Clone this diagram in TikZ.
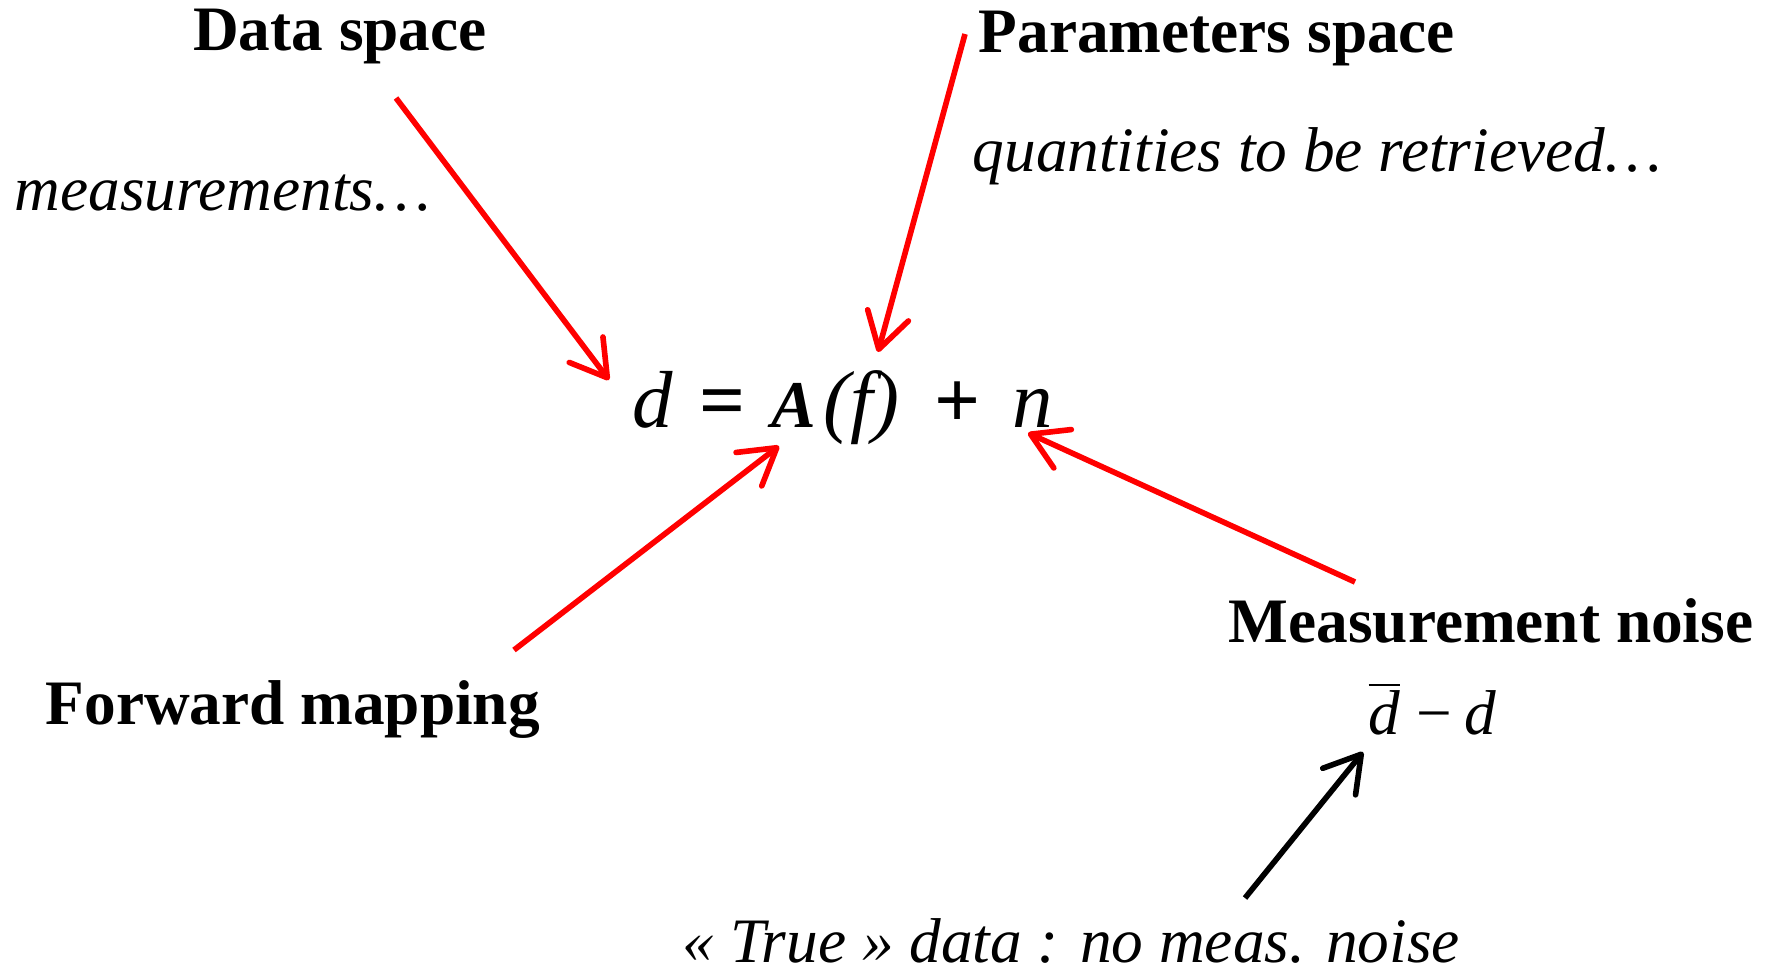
\documentclass[tikz,border=0pt]{standalone}
\usepackage{fontspec}
\setmainfont{Liberation Serif}
\usetikzlibrary{arrows.meta}
\begin{document}
\begin{tikzpicture}[x=0.01cm,y=-0.01cm,
	titletext/.style={inner sep=0pt,font=\fontsize{18}{21}\selectfont\bfseries},
	hinttext/.style={inner sep=0pt,font=\fontsize{18}{21}\selectfont\itshape},
	redarrow/.style={draw=red,line width=1.6pt,-{Straight Barb[length=10pt,width=12pt,round]}},
	blackarrow/.style={draw=black,line width=1.6pt,-{Straight Barb[length=10pt,width=12pt,round]}}]
			\useasboundingbox (0,0) rectangle (1783,972);
			\node[titletext,anchor=base] (dataspace) at (340,50) {Data space};
			\node[hinttext,anchor=base west] (meas) at (14,210) {measurements…};
			\node[titletext,anchor=base west] (paramspace) at (978,52) {Parameters space};
			\node[hinttext,anchor=base west] (quant) at (972,171) {quantities to be retrieved…};
			\node[inner sep=0pt,anchor=base west,font=\fontsize{23}{27}\selectfont] (eq) at (632,427) {\textit{d}\hspace{7.4pt}\textbf{=}\hspace{7.4pt}{\fontsize{19}{21}\selectfont\bfseries\itshape A}\hspace{2pt}\textit{(f)}\hspace{10pt}\textbf{+}\hspace{9pt}\textit{n}};
			\node[titletext,anchor=base west] (forward) at (45,724) {Forward mapping};
			\node[titletext,anchor=base west] (noise) at (1228,642) {Measurement noise};
			\node[inner sep=0pt,anchor=base west,font=\fontsize{18}{21}\selectfont] (dbar) at (1368,734) {$\overline{\hbox{\itshape d}}$\hspace{4.5pt}−\hspace{3.5pt}\textit{d}};
			\node[hinttext,anchor=base west] (truedata) at (682,962) {« True » data : no meas. noise};
			\coordinate (dsTail) at (396,98);
			\coordinate (dsTip) at (609,380);
			\coordinate (psTail) at (965,34);
			\coordinate (psTip) at (878,352);
			\coordinate (fwTail) at (514,650);
			\coordinate (fwTip) at (779,446);
			\coordinate (mnTail) at (1355,582);
			\coordinate (mnTip) at (1028,433);
			\coordinate (tdTail) at (1245,898);
			\coordinate (tdTip) at (1363,752);
			\draw[redarrow] (dsTail) -- (dsTip);
			\draw[redarrow] (psTail) -- (psTip);
			\draw[redarrow] (fwTail) -- (fwTip);
			\draw[redarrow] (mnTail) -- (mnTip);
			\draw[blackarrow] (tdTail) -- (tdTip);
\end{tikzpicture}
\end{document}
